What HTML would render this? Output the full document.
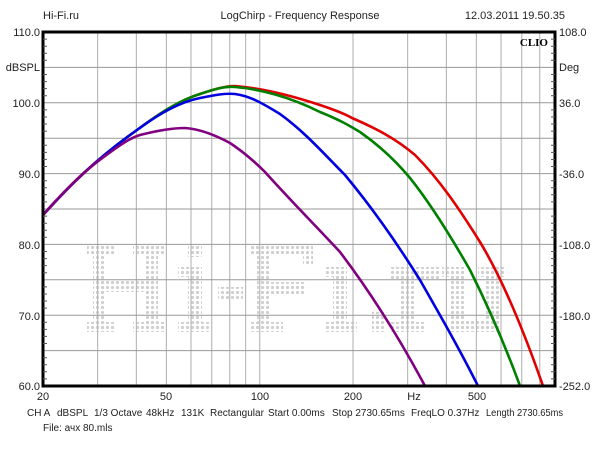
<!DOCTYPE html><html><head><style>body{margin:0;background:#fff}svg{display:block;font-family:"Liberation Sans",sans-serif}</style></head><body>
<svg width="600" height="450" viewBox="0 0 600 450">
<defs><pattern id="dots" width="5" height="5" patternUnits="userSpaceOnUse"><circle cx="2.5" cy="2.5" r="1.6" fill="#d0d0d0"/></pattern></defs>
<rect width="600" height="450" fill="#fff"/>
<g font-size="11" fill="#222">
<text x="43" y="19">Hi-Fi.ru</text>
<text x="300" y="19" text-anchor="middle">LogChirp - Frequency Response</text>
<text x="565" y="19" text-anchor="end">12.03.2011 19.50.35</text>
</g>
<g fill="url(#dots)">
<rect x="93" y="245" width="13" height="87"/><rect x="145" y="245" width="13" height="87"/>
<rect x="87" y="245" width="28" height="10"/><rect x="133" y="245" width="33" height="10"/>
<rect x="87" y="322" width="28" height="10"/><rect x="133" y="322" width="33" height="10"/>
<rect x="93" y="280" width="65" height="12"/>
<rect x="188" y="245" width="14" height="12"/><rect x="188" y="267" width="14" height="65"/>
<rect x="178" y="267" width="24" height="10"/><rect x="178" y="322" width="34" height="10"/>
<rect x="218" y="287" width="25" height="12"/>
<rect x="257" y="245" width="13" height="87"/><rect x="250" y="245" width="63" height="10"/>
<rect x="303" y="245" width="10" height="20"/><rect x="257" y="282" width="48" height="12"/>
<rect x="250" y="322" width="33" height="10"/>
<rect x="333" y="267" width="14" height="65"/><rect x="325" y="322" width="32" height="10"/><rect x="325" y="267" width="22" height="10"/>
<rect x="372" y="312" width="14" height="20"/>
<rect x="400" y="267" width="14" height="65"/><rect x="390" y="267" width="50" height="12"/><rect x="390" y="322" width="35" height="10"/>
<rect x="450" y="267" width="14" height="65"/><rect x="485" y="267" width="14" height="65"/><rect x="450" y="320" width="49" height="12"/><rect x="442" y="267" width="22" height="10"/><rect x="478" y="267" width="27" height="10"/>
</g>
<g stroke="#bbb" stroke-width="1.2">
<line x1="97.6" y1="32" x2="97.6" y2="386"/><line x1="136.4" y1="32" x2="136.4" y2="386"/><line x1="166.4" y1="32" x2="166.4" y2="386"/><line x1="191" y1="32" x2="191" y2="386"/><line x1="211.7" y1="32" x2="211.7" y2="386"/><line x1="229.7" y1="32" x2="229.7" y2="386"/><line x1="245.6" y1="32" x2="245.6" y2="386"/><line x1="259.7" y1="32" x2="259.7" y2="386"/><line x1="353" y1="32" x2="353" y2="386"/><line x1="407.6" y1="32" x2="407.6" y2="386"/><line x1="446.4" y1="32" x2="446.4" y2="386"/><line x1="476.4" y1="32" x2="476.4" y2="386"/><line x1="501" y1="32" x2="501" y2="386"/><line x1="521.7" y1="32" x2="521.7" y2="386"/><line x1="539.7" y1="32" x2="539.7" y2="386"/>
</g>
<g stroke="#999" stroke-width="1">
<line x1="43" y1="67.4" x2="555" y2="67.4"/><line x1="43" y1="102.8" x2="555" y2="102.8"/><line x1="43" y1="138.2" x2="555" y2="138.2"/><line x1="43" y1="173.6" x2="555" y2="173.6"/><line x1="43" y1="209" x2="555" y2="209"/><line x1="43" y1="244.4" x2="555" y2="244.4"/><line x1="43" y1="279.8" x2="555" y2="279.8"/><line x1="43" y1="315.2" x2="555" y2="315.2"/><line x1="43" y1="350.6" x2="555" y2="350.6"/>
</g>
<g fill="none" stroke-width="2.6" stroke-linejoin="round">
<path stroke="#e00000" d="M43,215 C70,185 95,160 137,130 C160,113 180,100 200,94 C215,89 225,86 235,86 C260,88 290,95 320,105 C335,110 345,114 352,118 C375,128 395,138 415,155 C440,180 460,210 480,242 C500,275 520,320 543,386"/>
<path stroke="#008000" d="M43,215 C70,185 95,160 137,130 C160,113 180,100 200,94 C215,89 225,86 235,87 C260,89 290,97 320,112 C340,120 350,126 360,132 C380,146 395,160 410,178 C430,203 450,235 470,270 C490,310 505,345 520,386"/>
<path stroke="#0000e0" d="M43,215 C70,185 95,160 137,130 C160,113 180,102 200,98 C215,95 225,93 235,94 C250,96 262,103 280,114 C305,132 325,155 345,175 C370,205 395,240 420,280 C440,315 460,350 478,386"/>
<path stroke="#800080" d="M43,215 C65,190 85,170 105,156 C120,145 130,138 140,135 C160,130 175,128 185,128 C200,129 215,135 230,143 C245,153 255,162 265,172 C290,200 315,225 340,252 C365,285 395,330 425,386"/>
</g>
<rect x="43" y="32" width="512" height="354" fill="none" stroke="#000" stroke-width="3"/>
<g stroke="#555" stroke-width="1">
<path d="M43,39.1h4M43,46.2h4M43,53.2h4M43,60.3h4M43,74.5h4M43,81.6h4M43,88.6h4M43,95.7h4M43,109.9h4M43,117h4M43,124h4M43,131.1h4M43,145.3h4M43,152.4h4M43,159.4h4M43,166.5h4M43,180.7h4M43,187.8h4M43,194.8h4M43,201.9h4M43,216.1h4M43,223.2h4M43,230.2h4M43,237.3h4M43,251.5h4M43,258.6h4M43,265.6h4M43,272.7h4M43,286.9h4M43,294h4M43,301h4M43,308.1h4M43,322.3h4M43,329.4h4M43,336.4h4M43,343.5h4M43,357.7h4M43,364.8h4M43,371.8h4M43,378.9h4"/>
<path d="M555,39.1h-4M555,46.2h-4M555,53.2h-4M555,60.3h-4M555,74.5h-4M555,81.6h-4M555,88.6h-4M555,95.7h-4M555,109.9h-4M555,117h-4M555,124h-4M555,131.1h-4M555,145.3h-4M555,152.4h-4M555,159.4h-4M555,166.5h-4M555,180.7h-4M555,187.8h-4M555,194.8h-4M555,201.9h-4M555,216.1h-4M555,223.2h-4M555,230.2h-4M555,237.3h-4M555,251.5h-4M555,258.6h-4M555,265.6h-4M555,272.7h-4M555,286.9h-4M555,294h-4M555,301h-4M555,308.1h-4M555,322.3h-4M555,329.4h-4M555,336.4h-4M555,343.5h-4M555,357.7h-4M555,364.8h-4M555,371.8h-4M555,378.9h-4"/>
</g>
<text x="548" y="46" font-size="11" font-weight="bold" font-family="Liberation Serif,serif" text-anchor="end">CLIO</text>
<g font-size="11" fill="#222" text-anchor="end">
<text x="40" y="36">110.0</text><text x="40" y="71">dBSPL</text><text x="40" y="107">100.0</text><text x="40" y="178">90.0</text><text x="40" y="249">80.0</text><text x="40" y="320">70.0</text><text x="40" y="390">60.0</text>
</g>
<g font-size="11" fill="#222">
<text x="559" y="36">108.0</text><text x="559" y="71">Deg</text><text x="559" y="107">36.0</text><text x="559" y="178">-36.0</text><text x="559" y="249">-108.0</text><text x="559" y="320">-180.0</text><text x="559" y="390">-252.0</text>
</g>
<g font-size="11" fill="#222" text-anchor="middle">
<text x="43" y="400">20</text><text x="166" y="400">50</text><text x="260" y="400">100</text><text x="353" y="400">200</text><text x="414" y="400">Hz</text><text x="477" y="400">500</text>
</g>
<g font-size="10" fill="#222">
<text x="27" y="416">CH A</text><text x="57" y="416">dBSPL</text><text x="94" y="416">1/3 Octave</text><text x="146" y="416">48kHz</text><text x="181" y="416">131K</text><text x="210" y="416">Rectangular</text><text x="268" y="416">Start 0.00ms</text><text x="332" y="416">Stop 2730.65ms</text><text x="411" y="416">FreqLO 0.37Hz</text><text x="486" y="416" textLength="77" lengthAdjust="spacingAndGlyphs">Length 2730.65ms</text>
<text x="43" y="431">File: ачх 80.mls</text>
</g>
</svg></body></html>
